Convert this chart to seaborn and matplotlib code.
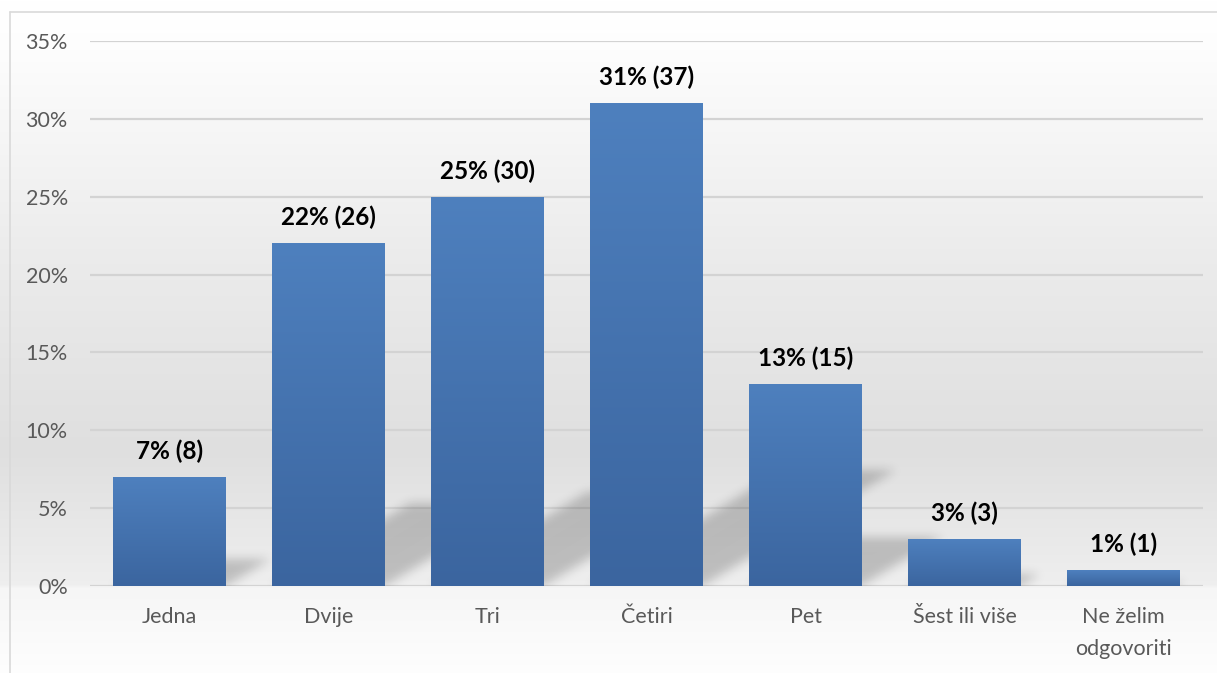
import numpy as np
import pandas as pd
import matplotlib
matplotlib.use("Agg")
import matplotlib.pyplot as plt
import seaborn as sns
from matplotlib.colors import LinearSegmentedColormap
from matplotlib.patches import Rectangle
from matplotlib.ticker import FuncFormatter, MultipleLocator

categories = ["Jedna", "Dvije", "Tri", "Četiri", "Pet", "Šest ili više", "Ne želim\nodgovoriti"]
percents = [7, 22, 25, 31, 13, 3, 1]
counts = [8, 26, 30, 37, 15, 3, 1]

df = pd.DataFrame({"cat": categories, "pct": percents, "n": counts})

sns.set_theme(style="white")
plt.rcParams["font.family"] = ["Lato", "DejaVu Sans"]

W, H = 1217, 673
fig = plt.figure(figsize=(W / 100, H / 100), dpi=100)

# ---- background gradient over whole figure (pixel rows from top) ----
bg = fig.add_axes([0, 0, 1, 1], zorder=-10)
bg.set_axis_off()
stops_y = [0, 41, 250, 450, 584, 588, 673]
stops_v = [1.0, 0.995, 0.925, 0.875, 0.935, 0.965, 0.995]
rows = np.arange(H)
vals = np.interp(rows, stops_y, stops_v)
img = np.repeat(vals[:, None, None], 3, axis=2)
bg.imshow(img, aspect="auto", extent=[0, 1, 0, 1], origin="upper")
bg.set_xlim(0, 1)
bg.set_ylim(0, 1)
bg.plot([10 / W, 10 / W], [0, 1 - 12 / H], color="#d9d9d9", lw=1.2)
bg.plot([10 / W, 1], [1 - 12 / H, 1 - 12 / H], color="#d9d9d9", lw=1.2)

# ---- main axes ----
left, right = 90 / W, 1203 / W
bottom, top = (H - 586) / H, (H - 41) / H
ax = fig.add_axes([left, bottom, right - left, top - bottom])
ax.set_facecolor("none")

sns.barplot(data=df, x="cat", y="pct", ax=ax, color="#4a78b4", width=0.71,
            saturation=1, zorder=3)

ymax = 35
ncat = len(categories)
ax.set_ylim(0, ymax)
ax.set_xlim(-0.5, ncat - 0.5)
ax.yaxis.set_major_locator(MultipleLocator(5))
ax.yaxis.set_major_formatter(FuncFormatter(lambda v, p: f"{int(v)}%"))
ax.grid(axis="y", color="#d3d3d3", lw=1.6, zorder=0)
ax.set_axisbelow(True)
for s in ax.spines.values():
    s.set_visible(False)
ax.set_xlabel("")
ax.set_ylabel("")
ax.tick_params(axis="y", labelsize=15.5, labelcolor="#595959", pad=16, length=0)
ax.tick_params(axis="x", labelsize=15.5, labelcolor="#595959", pad=15, length=0)
for lbl in ax.get_xticklabels():
    lbl.set_linespacing(1.75)
    lbl.set_verticalalignment("top")

# ---- perspective shadows (computed from bar geometry, blurred) ----
ax_wpx = int(round(1203 - 90))
ax_hpx = int(round(586 - 41))
xs = np.linspace(-0.5, ncat - 0.5, ax_wpx)
ys = np.linspace(0, ymax, ax_hpx)
XX, YY = np.meshgrid(xs, ys)
mask = np.zeros_like(XX)
bars = list(ax.patches)
for patch in bars:
    x0 = patch.get_x()
    w = patch.get_width()
    h = patch.get_height()
    sh = 0.24 * h            # shadow height (in %)
    dx = 0.0392 * h          # shadow shear (in category units)
    if sh <= 0:
        continue
    t = YY / sh
    inside = (YY >= 0) & (YY <= sh) & (XX >= x0 + dx * t) & (XX <= x0 + w + dx * t)
    mask = np.maximum(mask, inside.astype(float))

def blur(a, sigma):
    r = int(3 * sigma)
    k = np.exp(-0.5 * (np.arange(-r, r + 1) / sigma) ** 2)
    k /= k.sum()
    a = np.apply_along_axis(lambda m: np.convolve(m, k, mode="same"), 0, a)
    a = np.apply_along_axis(lambda m: np.convolve(m, k, mode="same"), 1, a)
    return a

mask = blur(mask, 5.0)
shadow = np.zeros((ax_hpx, ax_wpx, 4))
shadow[..., 3] = 0.2 * mask
ax.imshow(shadow, aspect="auto", origin="lower",
          extent=[-0.5, ncat - 0.5, 0, ymax], zorder=2, interpolation="bilinear")

# ---- gradient bars ----
cmap = LinearSegmentedColormap.from_list("bar", ["#3b659f", "#4e80be"])
grad = np.linspace(0, 1, 256).reshape(-1, 1)
for patch in bars:
    x0 = patch.get_x()
    w = patch.get_width()
    h = patch.get_height()
    patch.set_facecolor("none")
    patch.set_edgecolor("none")
    im = ax.imshow(grad, aspect="auto", cmap=cmap, origin="lower",
                   extent=[x0, x0 + w, 0, h], zorder=4)
    im.set_clip_path(Rectangle((x0, 0), w, h, transform=ax.transData))

ax.set_xlim(-0.5, ncat - 0.5)
ax.set_ylim(0, ymax)

for i, (p, n) in enumerate(zip(percents, counts)):
    ax.annotate(f"{p}% ({n})", (i, p), xytext=(0, 10), textcoords="offset points",
                ha="center", va="bottom", fontsize=17.5, fontweight="bold",
                color="#000000", zorder=6)

fig.savefig("out.png", dpi=100)
